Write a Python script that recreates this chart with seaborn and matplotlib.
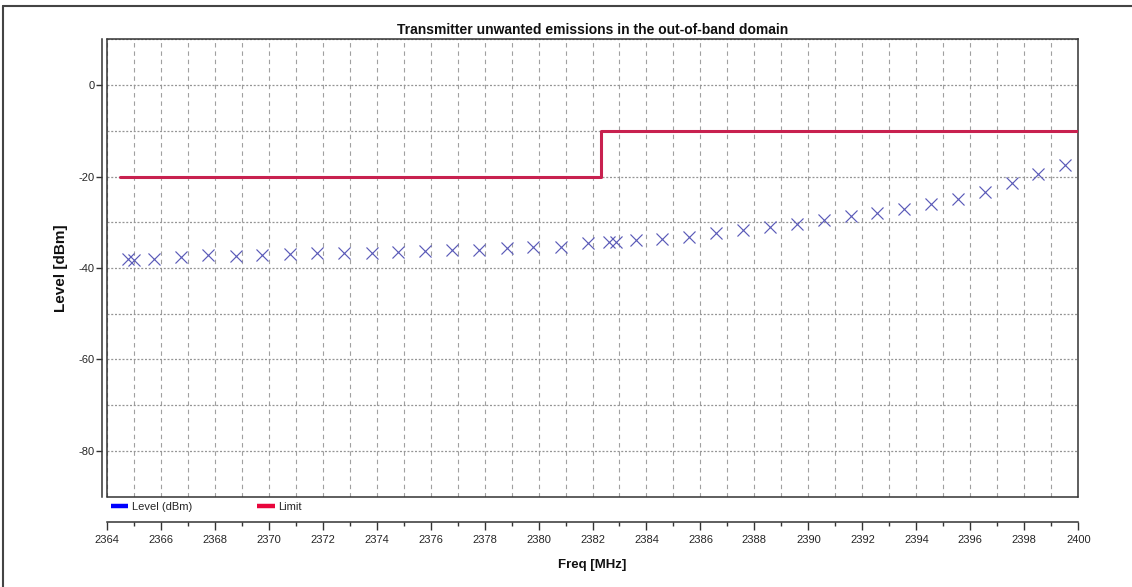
import matplotlib
matplotlib.use("Agg")
import matplotlib.pyplot as plt
from matplotlib.lines import Line2D
from matplotlib.ticker import FixedLocator
import seaborn as sns

# ---- data ----
freq_mhz = [2364.8, 2365.0, 2365.76, 2366.75, 2367.76, 2368.78, 2369.77, 2370.78,
            2371.79, 2372.8, 2373.82, 2374.8, 2375.79, 2376.8, 2377.8, 2378.82,
            2379.81, 2380.83, 2381.84, 2382.61, 2382.87, 2383.6, 2384.59, 2385.59,
            2386.56, 2387.57, 2388.58, 2389.57, 2390.58, 2391.57, 2392.55, 2393.55,
            2394.54, 2395.53, 2396.54, 2397.53, 2398.52, 2399.51]
level_dbm = [-38.0, -38.25, -38.1, -37.5, -37.2, -37.4, -37.1, -37.0,
             -36.7, -36.8, -36.8, -36.4, -36.35, -36.1, -36.1, -35.7,
             -35.5, -35.3, -34.6, -34.4, -34.4, -33.9, -33.7, -33.2,
             -32.4, -31.7, -31.0, -30.4, -29.5, -28.6, -28.0, -27.0,
             -26.0, -24.9, -23.3, -21.5, -19.5, -17.5]
limit_freq_mhz = [2364.5, 2382.3, 2400.0]
limit_dbm = [-20, -10, -10]
x_major_ticks = list(range(2364, 2401, 2))
x_minor_ticks = list(range(2364, 2401, 1))
y_major_ticks = [0, -20, -40, -60, -80]
y_grid_ticks = [10, 0, -10, -20, -30, -40, -50, -60, -70, -80]
title_text = "Transmitter unwanted emissions in the out-of-band domain"
x_label = "Freq [MHz]"
y_label = "Level [dBm]"
series_names = ["Level (dBm)", "Limit"]

# ---- style ----
sns.set_theme(style="white")
narrow = ["Liberation Sans Narrow", "Liberation Sans", "DejaVu Sans"]
plt.rcParams["font.family"] = narrow

W, H = 1132, 587
fig = plt.figure(figsize=(W / 100, H / 100), dpi=100)
fig.patch.set_facecolor("white")
ax_l, ax_r, ax_t, ax_b = 106.7, 1078.3, 39.3, 496.7
ax = fig.add_axes([ax_l / W, 1 - ax_b / H, (ax_r - ax_l) / W, (ax_b - ax_t) / H])
ax.set_facecolor("white")

limit_color = "#c8214f"
marker_color = "#5a5ab8"

sns.lineplot(x=limit_freq_mhz, y=limit_dbm, drawstyle="steps-post", color=limit_color,
             linewidth=2.2, estimator=None, sort=False, ax=ax, zorder=3)
sns.scatterplot(x=freq_mhz, y=level_dbm, marker="x", s=75, color=marker_color,
                linewidth=0.85, ax=ax, zorder=4)

ax.set_xlim(2364, 2400)
ax.set_ylim(-90, 10)

ax.xaxis.set_major_locator(FixedLocator(x_major_ticks))
ax.xaxis.set_minor_locator(FixedLocator(x_minor_ticks))
ax.yaxis.set_major_locator(FixedLocator(y_major_ticks))
ax.yaxis.set_minor_locator(FixedLocator(y_grid_ticks))

ax.xaxis.grid(True, which="both", linestyle=(0, (4, 3.5)), color="#a0a0a0", linewidth=0.8)
ax.yaxis.grid(True, which="both", linestyle=(0, (1.6, 1.4)), color="#959595", linewidth=0.9)
ax.set_axisbelow(True)

for s in ax.spines.values():
    s.set_color("#333333")
    s.set_linewidth(1.1)
ax.spines["left"].set_position(("outward", 3.6))
ax.spines["bottom"].set_position(("outward", 18.4))
# inner frame edges (left/bottom) of the plot box
ax.add_line(Line2D([0, 0], [0, 1], transform=ax.transAxes, color="#333333", lw=1.1, clip_on=False))
ax.add_line(Line2D([0, 1], [0, 0], transform=ax.transAxes, color="#333333", lw=1.1, clip_on=False))

ax.tick_params(axis="x", which="major", direction="out", length=5.5, width=1.0,
               color="#333333", labelsize=8, pad=3.5, bottom=True)
ax.tick_params(axis="x", which="minor", direction="out", length=3, width=1.0,
               color="#333333", bottom=True)
ax.tick_params(axis="y", which="major", direction="out", length=4, width=1.0,
               color="#333333", labelsize=8, pad=1, left=True)
ax.tick_params(axis="y", which="minor", length=0, left=False)
ax.set_xticklabels([str(t) for t in x_major_ticks])
ax.set_yticklabels([str(t) for t in y_major_ticks])

ax.set_title(title_text, fontsize=10, fontweight="bold", pad=4, color="#111111")
ax.set_xlabel(x_label, fontsize=9.5, fontweight="bold", color="#111111", va="center")
ax.xaxis.set_label_coords(0.5, (ax_b - 565) / (ax_b - ax_t))
ax.set_ylabel(y_label, fontsize=11, fontweight="bold", color="#111111", va="center",
              family=["Liberation Sans", "DejaVu Sans"])
ax.yaxis.set_label_coords((61 - ax_l) / (ax_r - ax_l), 0.5)

handles = [Line2D([], [], color="#0000ff", lw=3.2, solid_capstyle="butt"),
           Line2D([], [], color="#e8063c", lw=3.2, solid_capstyle="butt")]
fig.legend(handles, series_names, loc="center left",
           bbox_to_anchor=(111 / W, 1 - 506.7 / H), ncol=2, frameon=False,
           fontsize=8, handlelength=1.55, handletextpad=0.3, columnspacing=5.9,
           borderpad=0, borderaxespad=0)

# outer window frame
fig.add_artist(Line2D([3 / W, 3 / W], [0, 1 - 6 / H], transform=fig.transFigure,
                      color="#444444", lw=1.5))
fig.add_artist(Line2D([3 / W, 1], [1 - 6 / H, 1 - 6 / H], transform=fig.transFigure,
                      color="#444444", lw=1.5))

fig.savefig("out.png", dpi=100, facecolor="white")
